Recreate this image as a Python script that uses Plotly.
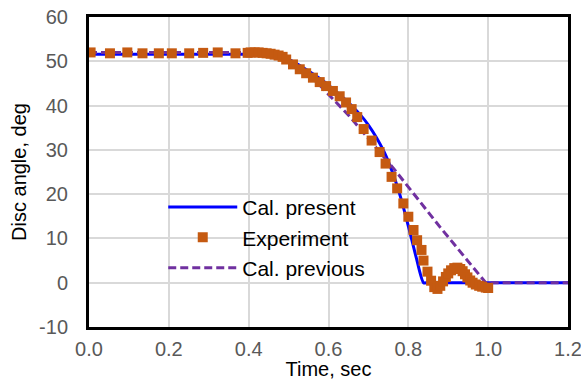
import plotly.graph_objects as go

# Experiment (markers)
exp_t = [0.004, 0.0525, 0.096, 0.134, 0.175, 0.2075, 0.251, 0.286, 0.3225, 0.367, 0.3975,
         0.405, 0.415, 0.425, 0.435, 0.445, 0.455, 0.465, 0.475, 0.485,
         0.494, 0.511, 0.528, 0.544, 0.561, 0.578, 0.594, 0.611, 0.628, 0.644, 0.658, 0.672,
         0.688, 0.708, 0.728, 0.743, 0.758, 0.772, 0.7875, 0.80, 0.813, 0.822, 0.833, 0.838,
         0.848, 0.857, 0.865, 0.873, 0.88, 0.887, 0.894, 0.90, 0.907, 0.915, 0.923, 0.93,
         0.936, 0.942, 0.948, 0.955, 0.961, 0.969, 0.9775, 0.985, 0.994, 1.0]
exp_v = [52.0, 51.8, 52.0, 51.8, 51.8, 51.8, 51.8, 51.9, 52.0, 51.8, 51.9,
         52.0, 52.0, 52.0, 51.9, 51.8, 51.7, 51.5, 51.3, 51.0,
         50.4, 49.3, 48.2, 47.3, 46.3, 45.3, 44.4, 43.3, 42.1, 40.7, 39.2, 37.4,
         34.7, 32.1, 29.5, 26.9, 23.9, 21.3, 17.9, 14.9, 11.9, 9.6, 7.4, 5.0,
         2.5, 0.45, -1.0, -1.4, -0.7, 0.3, 1.3, 2.1, 2.8, 3.3, 3.4, 3.1,
         2.6, 1.9, 1.2, 0.5, 0.0, -0.4, -0.7, -0.9, -1.1, -1.2]

# Cal. present (solid blue)
pres_t = [0.0, 0.40, 0.45, 0.48, 0.50, 0.52, 0.55, 0.58, 0.60, 0.62, 0.64, 0.66, 0.68,
          0.70, 0.72, 0.74, 0.76, 0.78, 0.80, 0.82, 0.838, 0.85, 1.2]
pres_v = [51.6, 51.6, 51.5, 51.0, 50.4, 49.5, 47.8, 46.0, 44.6, 43.1, 41.5, 39.8, 37.9,
          35.6, 32.8, 29.4, 25.0, 19.5, 12.8, 5.6, 0.0, 0.0, 0.0]

# Cal. previous (dashed purple)
prev_t = [0.0, 0.40, 0.45, 0.50, 0.55, 0.58, 0.6025, 0.6525, 0.70, 0.765, 0.88, 0.994, 1.2]
prev_v = [52.0, 52.0, 51.8, 50.3, 47.2, 44.5, 42.3, 37.6, 32.5, 25.6, 12.5, 0.0, 0.0]

x_ticks = [0.0, 0.2, 0.4, 0.6, 0.8, 1.0, 1.2]
y_ticks = [-10, 0, 10, 20, 30, 40, 50, 60]
y_tick_text = ["-10", "0", "10", "20", "30", "40", "50", "60"]

FONT = "Liberation Sans, Arial, sans-serif"

fig = go.Figure()
fig.add_trace(go.Scatter(x=pres_t, y=pres_v, mode="lines", name="Cal. present",
                         line=dict(color="#0000FF", width=3, shape="spline", smoothing=0.6),
                         legendrank=1))
fig.add_trace(go.Scatter(x=prev_t, y=prev_v, mode="lines", name="Cal. previous",
                         line=dict(color="#7030A0", width=3, dash="8px,4px"), legendrank=3))
fig.add_trace(go.Scatter(x=exp_t, y=exp_v, mode="markers", name="Experiment",
                         marker=dict(symbol="square", size=10, color="#C55A11",
                                     line=dict(width=0)), legendrank=2))

fig.update_layout(
    width=581, height=380,
    margin=dict(l=89, r=13, t=17, b=53),
    paper_bgcolor="white", plot_bgcolor="white",
    font=dict(family=FONT, size=20, color="#000000"),
    showlegend=True,
    legend=dict(x=0.155, y=0.452, xanchor="left", yanchor="top",
                bgcolor="rgba(0,0,0,0)", font=dict(size=21, color="#000000"),
                itemwidth=69, tracegroupgap=0),
    xaxis=dict(range=[0, 1.2], tickvals=x_ticks, tickformat=".1f",
               showgrid=True, gridcolor="#D9D9D9", gridwidth=2,
               showline=True, linecolor="#000000", linewidth=3, mirror=True,
               ticks="", zeroline=False, automargin=False,
               ticklabeloverflow="allow",
               tickfont=dict(size=20, color="#595959"),
               ticklabelstandoff=2,
               title=dict(text="Time, sec", font=dict(size=20, color="#000000"), standoff=4)),
    yaxis=dict(range=[-10, 60], tickvals=y_ticks, ticktext=y_tick_text,
               showgrid=True, gridcolor="#D9D9D9", gridwidth=2,
               showline=True, linecolor="#000000", linewidth=3, mirror=True,
               ticks="", zeroline=False, automargin=False,
               tickfont=dict(size=20, color="#595959"),
               ticklabelstandoff=14,
               title=dict(text="Disc angle, deg", font=dict(size=20, color="#000000"), standoff=8)),
)

fig.write_html("out.html")
